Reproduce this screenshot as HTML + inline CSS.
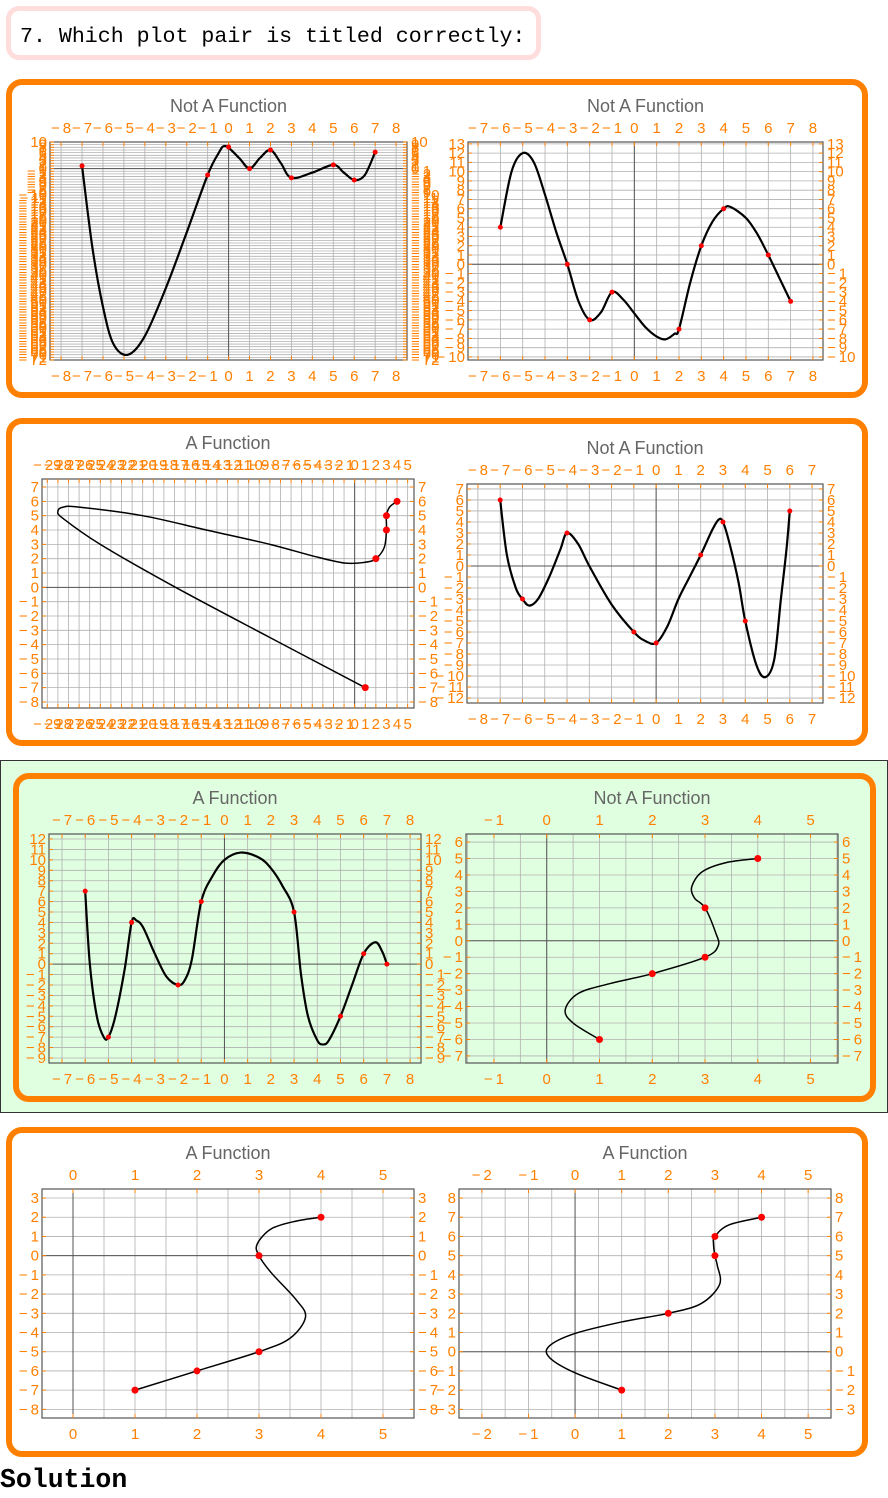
<!DOCTYPE html>
<html><head><meta charset="utf-8">
<style>
body{margin:0;width:888px;height:1498px;background:#fff;position:relative;overflow:hidden;font-family:"Liberation Sans",sans-serif}
.qbox{position:absolute;left:6px;top:6px;width:516px;height:44px;border:5px solid #fdd;border-radius:13px;font-family:"Liberation Mono",monospace;font-size:21.6px;line-height:52px;padding-left:9px;box-sizing:content-box;overflow:hidden;white-space:nowrap}
.panel{position:absolute;border:6px solid #ff8000;border-radius:16px;box-sizing:border-box}
.green{position:absolute;left:0;top:760px;width:888px;height:353px;background:#e0ffe0;border:1px solid #333;box-sizing:border-box}
.sol{position:absolute;left:0;top:1465px;font-family:"Liberation Mono",monospace;font-weight:bold;font-size:26.5px}
svg{position:absolute;left:0;top:0}
</style></head><body>
<div class="qbox">7. Which plot pair is titled correctly:</div>
<div class="panel" style="left:6px;top:79px;width:862px;height:319px"></div>
<div class="panel" style="left:6px;top:418px;width:862px;height:328px"></div>
<div class="green"></div>
<div class="panel" style="left:13px;top:773px;width:863px;height:329px;background:#e0ffe0"></div>
<div class="panel" style="left:6px;top:1127px;width:862px;height:330px"></div>
<div class="sol">Solution</div>
<svg id="svg" width="888" height="1498"></svg>
<script>
// ---- Chart 1 left ----
const p1lPx=[-7,-1,0,1,2,3,5,6,7];
const p1lPy=[1,-2.4,8.1,0,7,-3.5,1.4,-4.3,6.2];
const p1lCx=[-7,-6.5,-6,-5.5,-4.8,-4,-3,-2,-1,-0.5,-0.15,0.5,1,1.5,2,2.5,3,4,5,5.5,6,6.5,7];
const p1lCy=[1,-30,-52,-66,-70,-63,-45,-24,-2.4,5.5,8.5,4,0,4,7,2,-3.5,-1.5,1.4,-1.5,-4.3,-2.5,6.2];
// ---- Chart 1 right ----
const p1rPx=[-6,-3,-2,-1,2,3,4,6,7];
const p1rPy=[4,0,-6,-3,-7,2,6,1,-4];
const p1rCx=[-6,-5.5,-5,-4.5,-4,-3.5,-3,-2.5,-2,-1.5,-1,-0.5,0,0.5,1,1.4,1.8,2,2.5,3,3.5,4,4.3,5,5.5,6,6.5,7];
const p1rCy=[4,10,12,11,7.5,3.5,0,-4,-6,-5.2,-3,-3.8,-5.3,-6.8,-7.8,-8.1,-7.5,-7,-2,2,4.6,6,6.2,5,3.3,1,-1.5,-4];
// ---- Chart 2 left (parametric) ----
const p2lPx=[1,2,3,3,4];
const p2lPy=[-7,2,4,5,6];
const p2lCx=[1,-8,-16.9,-24,-27.5,-28,-27.5,-26,-20,-14,-8,-4,-1,1,2,2.8,3,3,3.3,4];
const p2lCy=[-7,-3.5,0,3,4.8,5.3,5.6,5.6,5,4,3,2.2,1.7,1.75,2,2.8,4,5,5.6,6];
// ---- Chart 2 right ----
const p2rPx=[-7,-6,-4,-1,0,2,3,4,6];
const p2rPy=[6,-3,3,-6,-7,1,4,-5,5];
const p2rCx=[-7,-6.7,-6.3,-6,-5.7,-5.3,-4.8,-4.3,-4,-3.5,-3,-2,-1,-0.5,0,0.5,1,1.5,2,2.5,2.8,3,3.3,3.7,4,4.5,4.9,5.3,5.6,5.85,6];
const p2rCy=[6,1,-2,-3,-3.6,-3,-1,1.5,3,2,0,-3.5,-6,-6.8,-7,-5.5,-3,-1,1,3.2,4.2,4,2,-1.5,-5,-9,-10.1,-8.5,-3,1.5,5];
// ---- Chart 3 left ----
const p3lPx=[-6,-5,-4,-2,-1,3,5,6,7];
const p3lPy=[7,-7,4,-2,6,5,-5,1,0];
const p3lCx=[-6,-5.8,-5.5,-5.2,-5,-4.7,-4.3,-4,-3.8,-3.5,-3,-2.5,-2,-1.7,-1.4,-1,-0.5,0,0.7,1.5,2,2.5,3,3.3,3.6,4,4.25,4.5,5,5.5,6,6.5,6.8,7];
const p3lCy=[7,0,-5,-7,-7,-5,-0.5,4,4.2,3.5,1,-1.2,-2,-1.5,0.5,6,8.5,10,10.7,10.2,9.2,7.5,5,-1,-5,-7.3,-7.7,-7.3,-5,-2,1,2.1,1.2,0];
// ---- Chart 3 right (parametric) ----
const p3rPx=[1,2,3,3,4];
const p3rPy=[-6,-2,-1,2,5];
const p3rCx=[1,0.5,0.35,0.6,1.2,2,3,3.25,3.2,3,2.8,2.75,2.95,3.4,4];
const p3rCy=[-6,-5,-4.2,-3.2,-2.6,-2,-1,-0.3,0.5,2,2.6,3.3,4.2,4.75,5];
// ---- Chart 4 left (parametric) ----
const p4lPx=[1,2,3,3,4];
const p4lPy=[-7,-6,-5,0,2];
const p4lCx=[1,2,3,3.5,3.75,3.6,3.2,3,2.97,3.2,3.6,4];
const p4lCy=[-7,-6,-5,-4.3,-3.2,-2.3,-0.9,0,0.6,1.4,1.8,2];
// ---- Chart 4 right (parametric) ----
const p4rPx=[1,2,3,3,4];
const p4rPy=[-2,2,5,6,7];
const p4rCx=[1,0,-0.55,-0.55,0,1,2,2.7,3.1,3.05,3,2.97,3,3.3,4];
const p4rCy=[-2,-1.1,-0.3,0.3,0.95,1.55,2,2.5,3.5,4.5,5,5.6,6,6.6,7];

const NS='http://www.w3.org/2000/svg';
const svg=document.getElementById('svg');
function mk(tag,attrs,parent){const e=document.createElementNS(NS,tag);for(const k in attrs)e.setAttribute(k,attrs[k]);parent.appendChild(e);return e;}
function lab(v){return v<0?'\u2212\u2009'+Math.abs(v):String(v);}
function chart(cfg,px,py,cx,cy){
  const g=mk('g',{},svg);
  
  
  const X=v=>cfg.x0+(v-cfg.xr[0])/(cfg.xr[1]-cfg.xr[0])*(cfg.x1-cfg.x0);
  const Y=v=>cfg.y1-(v-cfg.yr[0])/(cfg.yr[1]-cfg.yr[0])*(cfg.y1-cfg.y0);
  const fs=15;
  const gs=cfg.gx||1;
  for(let v=Math.ceil(cfg.xr[0]/gs)*gs;v<=cfg.xr[1];v+=gs){mk('line',{x1:X(v),x2:X(v),y1:cfg.y0,y2:cfg.y1,stroke:'#b0b0b0','stroke-width':0.8},g);}
  for(let v=Math.ceil(cfg.yr[0]);v<=cfg.yr[1];v++){mk('line',{x1:cfg.x0,x2:cfg.x1,y1:Y(v),y2:Y(v),stroke:'#b0b0b0','stroke-width':0.8},g);}
  mk('line',{x1:X(0),x2:X(0),y1:cfg.y0,y2:cfg.y1,stroke:'#555','stroke-width':1},g);
  mk('line',{x1:cfg.x0,x2:cfg.x1,y1:Y(0),y2:Y(0),stroke:'#555','stroke-width':1},g);
  mk('rect',{x:cfg.x0,y:cfg.y0,width:cfg.x1-cfg.x0,height:cfg.y1-cfg.y0,fill:'none',stroke:'#555','stroke-width':1.2},g);
  for(let v=Math.ceil(cfg.xr[0]);v<=cfg.xr[1];v++){
    const x=X(v);
    mk('line',{x1:x,x2:x,y1:cfg.y0,y2:cfg.y0+4,stroke:'#ff8000'},g);
    mk('line',{x1:x,x2:x,y1:cfg.y1,y2:cfg.y1-4,stroke:'#ff8000'},g);
    const t1=mk('text',{x:x,y:cfg.y0-9,'text-anchor':'middle',fill:'#ff8000','font-size':fs},g);t1.textContent=lab(v);
    const t2=mk('text',{x:x,y:cfg.y1+21,'text-anchor':'middle',fill:'#ff8000','font-size':fs},g);t2.textContent=lab(v);
  }
  for(let v=Math.ceil(cfg.yr[0]);v<=cfg.yr[1];v++){
    const y=Y(v);
    mk('line',{x1:cfg.x0,x2:cfg.x0+4,y1:y,y2:y,stroke:'#ff8000'},g);
    mk('line',{x1:cfg.x1,x2:cfg.x1-4,y1:y,y2:y,stroke:'#ff8000'},g);
    const t1=mk('text',{x:cfg.x0-3,y:y+5,'text-anchor':'end',fill:'#ff8000','font-size':fs},g);t1.textContent=lab(v);
    const t2=mk('text',{x:cfg.x1+4,y:y+5,fill:'#ff8000','font-size':fs},g);t2.textContent=lab(v);
  }
  const tt=mk('text',{x:(cfg.x0+cfg.x1)/2,y:cfg.y0-30,'text-anchor':'middle',fill:'#666','font-size':18},g);
  tt.textContent=cfg.title;
  
  
  const P=cx.map((v,i)=>[X(v),Y(cy[i])]);
  let d='M'+P[0][0]+','+P[0][1];
  for(let i=0;i<P.length-1;i++){
    const p0=P[i-1]||P[i],p1=P[i],p2=P[i+1],p3=P[i+2]||P[i+1];
    d+=' C'+(p1[0]+(p2[0]-p0[0])/6)+','+(p1[1]+(p2[1]-p0[1])/6)+' '+(p2[0]-(p3[0]-p1[0])/6)+','+(p2[1]-(p3[1]-p1[1])/6)+' '+p2[0]+','+p2[1];
  }
  const path=mk('path',{d:d,fill:'none',stroke:'#000','stroke-width':cfg.lw},g);
  
  
  px.forEach((v,i)=>{
    const c=mk('circle',{cx:X(v),cy:Y(py[i]),r:cfg.r,fill:'#f00'},g);
    
    
  });
}
chart({name:'plot-1-left',title:'Not A Function',x0:50,x1:407,y0:142,y1:360,xr:[-8.53,8.52],yr:[-72,10],lw:2.2,r:2.5},p1lPx,p1lPy,p1lCx,p1lCy);
chart({name:'plot-1-right',title:'Not A Function',x0:468,x1:823,y0:142,y1:360,xr:[-7.45,8.45],yr:[-10.33,13.2],lw:2.2,r:2.5},p1rPx,p1rPy,p1rCx,p1rCy);
chart({name:'plot-2-left',title:'A Function',x0:42,x1:414,y0:479,y1:708,xr:[-29.5,5.6],yr:[-8.42,7.56],lw:1.5,r:3.5},p2lPx,p2lPy,p2lCx,p2lCy);
chart({name:'plot-2-right',title:'Not A Function',x0:467,x1:823,y0:484,y1:703,xr:[-8.49,7.49],yr:[-12.45,7.45],lw:2.2,r:2.5},p2rPx,p2rPy,p2rCx,p2rCy);
chart({name:'plot-3-left',title:'A Function',x0:49,x1:421,y0:834,y1:1063,xr:[-7.56,8.47],yr:[-9.48,12.48],lw:2.2,r:2.5},p3lPx,p3lPy,p3lCx,p3lCy);
chart({name:'plot-3-right',title:'Not A Function',x0:466,x1:838,y0:834,y1:1063,xr:[-1.53,5.52],yr:[-7.43,6.49],gx:0.5,lw:1.5,r:3.5},p3rPx,p3rPy,p3rCx,p3rCy);
chart({name:'plot-4-left',title:'A Function',x0:42,x1:414,y0:1189,y1:1418,xr:[-0.5,5.5],yr:[-8.45,3.47],gx:0.5,lw:1.5,r:3.5},p4lPx,p4lPy,p4lCx,p4lCy);
chart({name:'plot-4-right',title:'A Function',x0:459,x1:831,y0:1189,y1:1418,xr:[-2.49,5.49],yr:[-3.45,8.47],gx:0.5,lw:1.5,r:3.5},p4rPx,p4rPy,p4rCx,p4rCy);
</script>
</body></html>
